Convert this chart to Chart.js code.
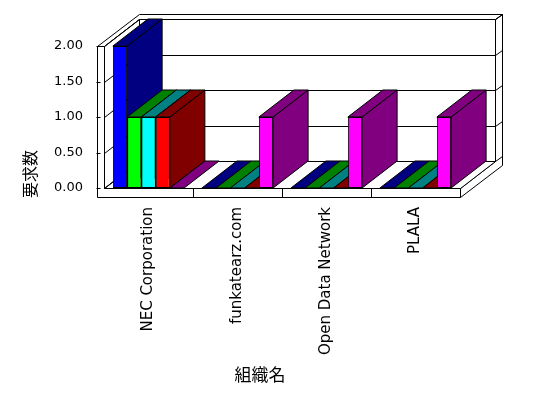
<!DOCTYPE html>
<html>
<head>
<meta charset="utf-8">
<script src="https://cdn.jsdelivr.net/npm/chart.js@4.4.0/dist/chart.umd.min.js"></script>
<style>
html, body { margin: 0; padding: 0; background: #fff; }
</style>
</head>
<body>
<canvas id="chart" width="548" height="398"></canvas>
<script>
'use strict'
const categories = ['NEC Corporation', 'funkatearz.com', 'Open Data Network', 'PLALA'];
const blueData = [2, 0, 0, 0];
const limeData = [1, 0, 0, 0];
const cyanData = [1, 0, 0, 0];
const redData = [1, 0, 0, 0];
const magentaData = [0, 1, 1, 1];
const yTicks = [0, 0.5, 1, 1.5, 2];
const xTitle = '組織名';
const yTitle = '要求数';

const DX = 35, DY = 27;   // depth of bars / back wall
const WX = 42, WY = 32;   // outer edge of back wall
const WALL = 7;           // left wall thickness
const FLOOR = 9;          // floor thickness

function poly(ctx, pts, fill) {
    ctx.beginPath();
    ctx.moveTo(pts[0][0], pts[0][1]);
    for (let i = 1; i < pts.length; i++) ctx.lineTo(pts[i][0], pts[i][1]);
    ctx.closePath();
    if (fill) { ctx.fillStyle = fill; ctx.fill(); }
    ctx.stroke();
}
function line(ctx, pts) {
    ctx.beginPath();
    ctx.moveTo(pts[0][0], pts[0][1]);
    for (let i = 1; i < pts.length; i++) ctx.lineTo(pts[i][0], pts[i][1]);
    ctx.stroke();
}

// walls, floor and the top/side faces of the bars
const box3d = {
    id: 'box3d',
    beforeDatasetsDraw(chart) {
        const ctx = chart.ctx;
        const a = chart.chartArea;
        const xs = chart.scales.x, ys = chart.scales.y;
        const L = Math.round(a.left) + 0.5, R = Math.round(a.right) + 0.5;
        const T = Math.round(a.top) + 0.5, B = Math.round(a.bottom) + 0.5;
        ctx.save();
        ctx.lineWidth = 1;
        ctx.strokeStyle = '#000';

        // right side of floor + back wall
        poly(ctx, [[R, B], [R + DX, B - DY], [R + DX, T - DY], [R + WX, T - WY], [R + WX, B + FLOOR - WY], [R, B + FLOOR]], '#fff');
        // top edge of walls
        poly(ctx, [[L - WALL, T], [L, T], [L + DX, T - DY], [R + DX, T - DY], [R + WX, T - WY], [L - WALL + WX, T - WY]], '#fff');
        // back wall
        poly(ctx, [[L + DX, T - DY], [R + DX, T - DY], [R + DX, B - DY], [L + DX, B - DY]], '#fff');
        // left wall inner face
        poly(ctx, [[L, T], [L + DX, T - DY], [L + DX, B - DY], [L, B]], '#fff');
        // floor top
        poly(ctx, [[L, B], [R, B], [R + DX, B - DY], [L + DX, B - DY]], '#fff');
        // front of left wall and floor
        poly(ctx, [[L - WALL, T], [L, T], [L, B], [R, B], [R, B + FLOOR], [L - WALL, B + FLOOR]], '#fff');

        // grid lines
        yTicks.forEach(v => {
            const py = Math.round(ys.getPixelForValue(v)) + 0.5;
            line(ctx, [[L, py], [L + DX, py - DY], [R + DX, py - DY], [R + WX, py - WY]]);
            line(ctx, [[L - WALL - 1, py], [L - WALL + 3, py]]);
        });
        // category separators on floor front
        const half = (xs.getPixelForValue(1) - xs.getPixelForValue(0)) / 2;
        for (let i = 0; i < categories.length - 1; i++) {
            const sx = Math.round(xs.getPixelForValue(i) + half) + 0.5;
            line(ctx, [[sx, B], [sx, B + FLOOR]]);
        }

        // bar depth faces, left to right
        for (let i = 0; i < categories.length; i++) {
            chart.data.datasets.forEach((ds, j) => {
                const el = chart.getDatasetMeta(j).data[i];
                const p = el.getProps(['x', 'y', 'base', 'width'], true);
                const x0 = p.x - p.width / 2, x1 = p.x + p.width / 2;
                const top = p.y, base = p.base;
                ctx.fillStyle = ds.darkColor;
                if (base - top > 0.5) {
                    poly(ctx, [[x1, top], [x1 + DX, top - DY], [x1 + DX, base - DY], [x1, base]], ds.darkColor);
                }
                poly(ctx, [[x0, top], [x1, top], [x1 + DX, top - DY], [x0 + DX, top - DY]], ds.darkColor);
            });
        }
        ctx.restore();
    },
    afterDraw(chart) {
        const ctx = chart.ctx;
        ctx.save();
        ctx.fillStyle = '#000';
        ctx.font = '17px "Noto Sans CJK JP"';
        ctx.textAlign = 'center';
        ctx.textBaseline = 'middle';
        ctx.fillText(xTitle, 260, 375);
        ctx.translate(30, 174);
        ctx.rotate(-Math.PI / 2);
        ctx.font = '16px "Noto Sans CJK JP"';
        ctx.fillText(yTitle, 0, 0);
        ctx.restore();
    }
};

function series(label, data, color, dark) {
    return {
        label: label,
        data: data,
        backgroundColor: color,
        darkColor: dark,
        borderColor: '#000',
        borderWidth: 1,
        borderSkipped: false,
        categoryPercentage: 0.8,
        barPercentage: 1.0
    };
}

const chart = new Chart(document.getElementById('chart'), {
    type: 'bar',
    data: {
        labels: categories,
        datasets: [
            series('blue', blueData, '#0000ff', '#000080'),
            series('lime', limeData, '#00ff00', '#008000'),
            series('cyan', cyanData, '#00ffff', '#008080'),
            series('red', redData, '#ff0000', '#800000'),
            series('magenta', magentaData, '#ff00ff', '#800080')
        ]
    },
    options: {
        responsive: false,
        animation: false,
        layout: { padding: { left: 0, right: 88, top: 46, bottom: 0 } },
        plugins: { legend: { display: false }, tooltip: { enabled: false } },
        scales: {
            x: {
                grid: { display: false, drawTicks: false },
                border: { display: false },
                ticks: {
                    maxRotation: 90, minRotation: 90, padding: 19, color: '#000',
                    font: { family: 'DejaVu Sans', size: 15 }
                },
                afterFit(s) { s.height = 210; }
            },
            y: {
                min: 0, max: 2,
                grid: { display: false, drawTicks: false },
                border: { display: false },
                ticks: {
                    padding: 21, color: '#000',
                    font: { family: 'DejaVu Sans', size: 13 },
                    callback: v => v.toFixed(2)
                },
                afterBuildTicks(s) { s.ticks = yTicks.map(v => ({ value: v })); },
                afterFit(s) { s.width = 104; }
            }
        }
    },
    plugins: [box3d]
});
</script>
</body>
</html>
